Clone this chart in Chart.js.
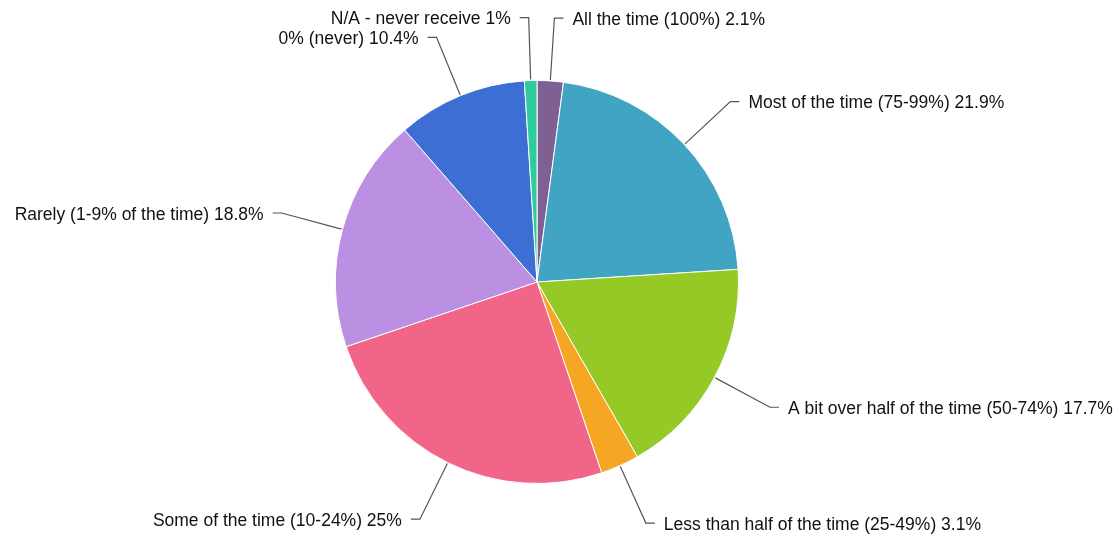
<!DOCTYPE html>
<html>
<head>
<meta charset="utf-8">
<script src="https://cdn.jsdelivr.net/npm/chart.js@4.4.0/dist/chart.umd.min.js"></script>
<style>
html,body{margin:0;padding:0;background:#fff;}
#wrap{width:1119px;height:537px;position:relative;}
</style>
</head>
<body>
<div id="wrap"><canvas id="chartPie"></canvas></div>
<script>
// categorias y porcentajes, en orden de las agujas del reloj desde arriba
let categorias = [
    'All the time (100%)',
    'Most of the time (75-99%)',
    'A bit over half of the time (50-74%)',
    'Less than half of the time (25-49%)',
    'Some of the time (10-24%)',
    'Rarely (1-9% of the time)',
    '0% (never)',
    'N/A - never receive'
];
let porcentajes = [2.1, 21.9, 17.7, 3.1, 25, 18.8, 10.4, 1];
let colores = ['#7e6093', '#41a4c3', '#95c926', '#f5a623', '#f06588', '#bb8fe2', '#3d6ed4', '#2dcc9c'];

// etiquetas con linea de conexion, al estilo del original
const etiquetas = {
    id: 'etiquetas',
    afterDatasetsDraw(chart){
        let ctx = chart.ctx;
        let arcs = chart.getDatasetMeta(0).data;
        ctx.save();
        ctx.font = '17.5px "Liberation Sans", Arial, sans-serif';
        ctx.textBaseline = 'middle';
        arcs.forEach((arc, i)=>{
            let p = arc.getProps(['x','y','startAngle','endAngle','outerRadius'], true);
            let mid = (p.startAngle + p.endAngle) / 2;
            let cos = Math.cos(mid), sin = Math.sin(mid);
            let dir = cos >= 0 ? 1 : -1;
            let R = p.outerRadius + 63;
            let ly = p.y + R * sin;
            let dy = ly - p.y;
            let ex = p.x + dir * Math.sqrt(Math.max(R*R - dy*dy, 0));
            let sx = p.x + (p.outerRadius + 1) * cos;
            let sy = p.y + (p.outerRadius + 1) * sin;

            ctx.strokeStyle = '#555';
            ctx.lineWidth = 1.2;
            ctx.beginPath();
            ctx.moveTo(sx, sy);
            ctx.lineTo(ex, ly);
            ctx.lineTo(ex + dir*9, ly);
            ctx.stroke();

            ctx.fillStyle = '#111';
            ctx.textAlign = dir > 0 ? 'left' : 'right';
            ctx.fillText(categorias[i] + ' ' + porcentajes[i] + '%', ex + dir*18, ly + 2);
        });
        ctx.restore();
    }
};

let config = {
    type: 'pie',
    data: {
        labels: categorias,
        datasets: [{
            data: porcentajes,
            backgroundColor: colores,
            borderColor: '#ffffff',
            borderWidth: 1
        }]
    },
    options: {
        responsive: true,
        maintainAspectRatio: false,
        animation: false,
        layout: {
            padding: {left: 335, right: 380, top: 80, bottom: 53}
        },
        plugins: {
            legend: {display: false},
            tooltip: {enabled: false}
        }
    },
    plugins: [etiquetas]
};

let chartPie = new Chart(document.getElementById('chartPie'), config);
</script>
</body>
</html>
